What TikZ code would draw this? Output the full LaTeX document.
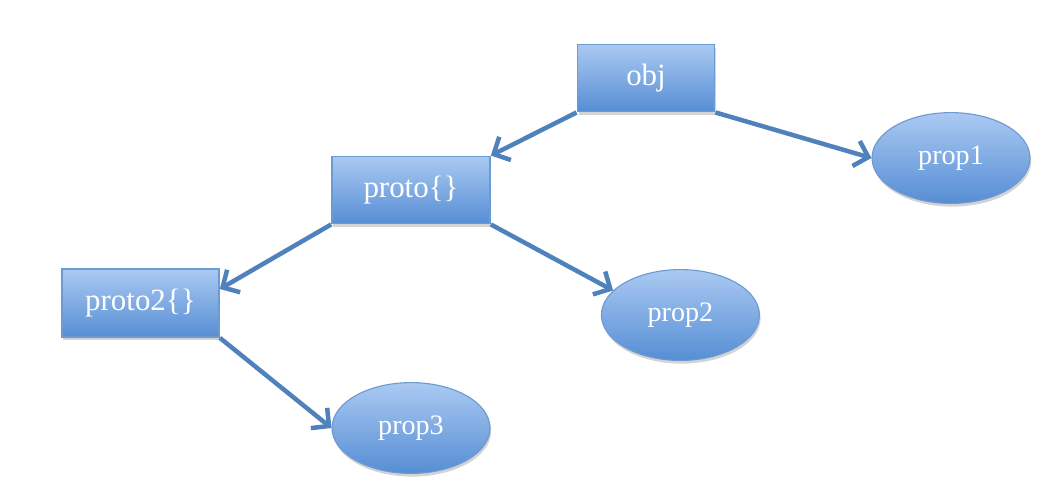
\documentclass[tikz,border=0pt]{standalone}
\usepackage{fontspec}
\setmainfont{Liberation Serif}
\usepackage{xcolor}
\usetikzlibrary{shapes,arrows.meta,shadows}

\definecolor{boxtop}{RGB}{170,201,242}
\definecolor{boxbot}{RGB}{86,142,212}
\definecolor{boxline}{RGB}{108,155,210}
\definecolor{link}{RGB}{79,129,189}

\begin{document}
\begin{tikzpicture}[
    objbox/.style={rectangle, draw=boxline, line width=1.2pt, top color=boxtop, bottom color=boxbot,
        text=white, font=\fontsize{22}{26}\selectfont, drop shadow={opacity=0.35, shadow xshift=0.03cm, shadow yshift=-0.08cm}},
    propnode/.style={ellipse, draw=boxline, line width=0.8pt, top color=boxtop, bottom color=boxbot,
        text=white, font=\fontsize{20}{24}\selectfont, minimum width=3.95cm, minimum height=2.27cm,
        drop shadow={opacity=0.35, shadow xshift=0.03cm, shadow yshift=-0.08cm}},
    link/.style={draw=link, line width=3.2pt, -{Straight Barb[length=3.2mm, width=6.5mm]}}
]
\useasboundingbox (0,0) rectangle (26.45,-12.4);

% Objets
\node[objbox, minimum width=3.43cm, minimum height=1.68cm] (obj) at (16.15,-1.95) {obj};
\node[objbox, minimum width=3.95cm, minimum height=1.68cm] (proto) at (10.275,-4.75) {proto\{\}};
\node[objbox, minimum width=3.93cm, minimum height=1.70cm] (proto2) at (3.51,-7.575) {proto2\{\}};

% Propriétés
\node[propnode] (prop1) at (23.775,-3.95) {prop1};
\node[propnode] (prop2) at (17.01,-7.875) {prop2};
\node[propnode] (prop3) at (10.275,-10.7) {prop3};

% Liens
\draw[link] (obj.south west) -- (proto.north east);
\draw[link] (obj.south east) -- (prop1.west);
\draw[link] (proto.south west) -- (proto2.10);
\draw[link] (proto.south east) -- (prop2.160);
\draw[link] (proto2.south east) -- (prop3.west);

\end{tikzpicture}
\end{document}
